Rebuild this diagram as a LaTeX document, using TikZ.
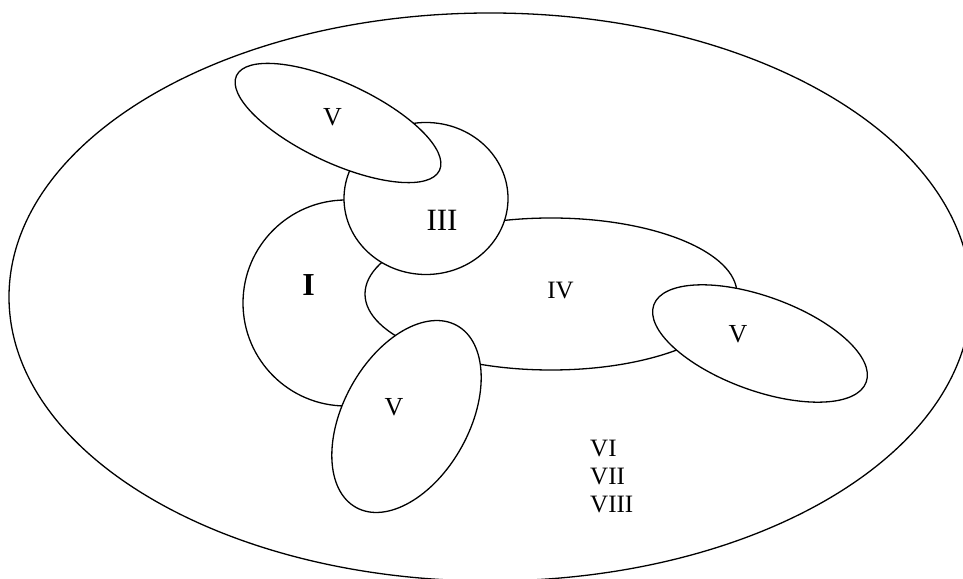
\documentclass[tikz,border=0pt]{standalone}
\usepackage{fontspec}
\setmainfont{Liberation Serif}
\begin{document}
\begin{tikzpicture}[x=1pt,y=1pt,
  region/.style={draw=black, fill=white, line width=1.3pt},
  lab/.style={inner sep=0pt, anchor=base, font=\fontsize{26}{30}\selectfont},
  biglab/.style={inner sep=0pt, anchor=base, font=\fontsize{31}{36}\selectfont},
  listlab/.style={inner sep=0pt, anchor=base west, font=\fontsize{25}{30}\selectfont}]
\useasboundingbox (0,0) rectangle (963,578);
\clip (0,0) rectangle (963,578);
\fill[white] (0,0) rectangle (963,578);
% outer region
\draw[region] (490,281) ellipse [x radius=481, y radius=284];
% I
\draw[region] (346,275) circle [radius=103];
% IV
\draw[region] (551,284) ellipse [x radius=186, y radius=76];
% III
\draw[region] (426,379.5) ellipse [x radius=82, y radius=76];
% V top
\draw[region, rotate around={-25:(338,455)}] (338,455) ellipse [x radius=112, y radius=40];
% V bottom
\draw[region, rotate around={61:(406.5,161.5)}] (406.5,161.5) ellipse [x radius=104, y radius=63];
% V right
\draw[region, rotate around={-20:(760,234.5)}] (760,234.5) ellipse [x radius=113, y radius=47];
% labels
\node[lab] (vtop) at (332.5,452) {V};
\node[biglab] (three) at (442,347) {III};
\node[biglab, font=\fontsize{32}{36}\selectfont\bfseries] (one) at (308.5,282) {I};
\node[lab, font=\fontsize{25}{30}\selectfont] (four) at (560.5,279) {IV};
\node[lab] (vright) at (738,235) {V};
\node[lab] (vbottom) at (394,162) {V};
\node[listlab] (six) at (590,121) {VI};
\node[listlab] (seven) at (590,93) {VII};
\node[listlab] (eight) at (590,66) {VIII};
\end{tikzpicture}
\end{document}
